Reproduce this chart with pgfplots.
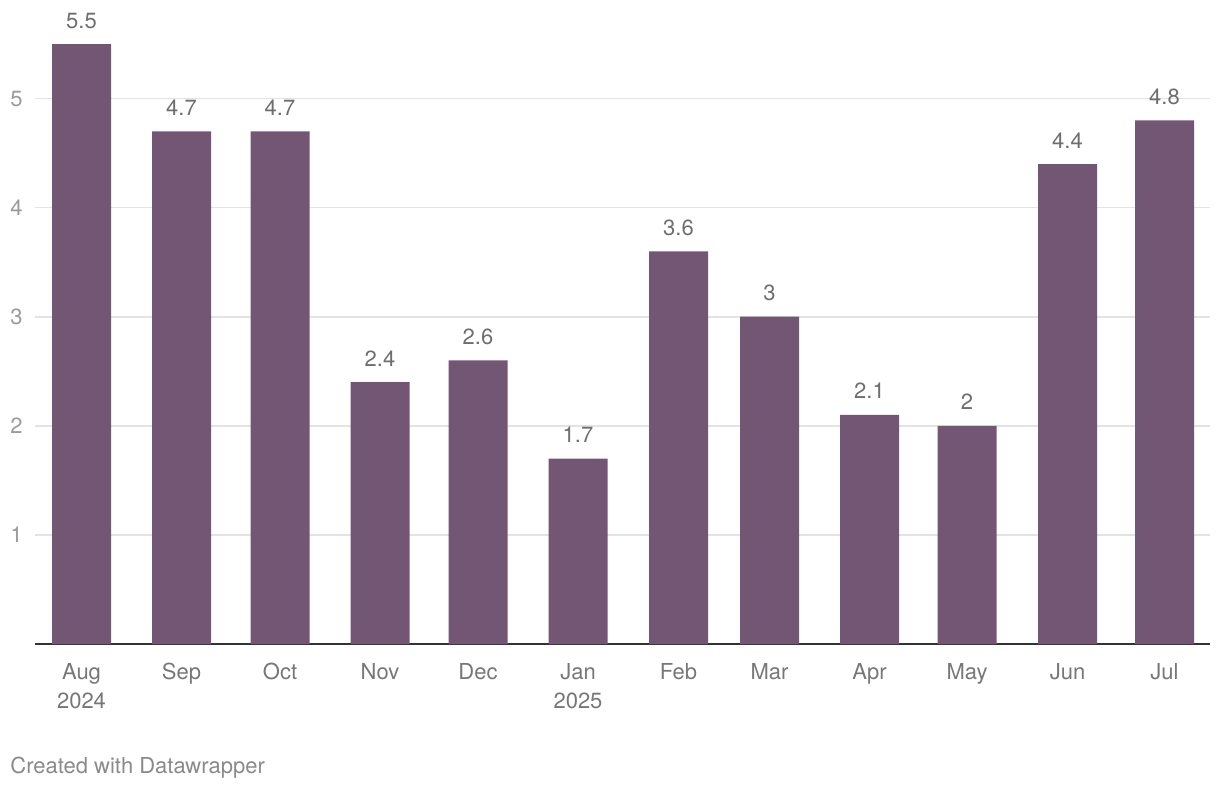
\documentclass[border=0pt]{standalone}
\usepackage{pgfplots}
\pgfplotsset{compat=1.18}
\usepackage{fontspec}
\setmainfont{TeX Gyre Heros}
\definecolor{barc}{HTML}{735673}
\definecolor{gridc}{HTML}{E3E3E3}
\definecolor{basec}{HTML}{333333}
\definecolor{ylab}{HTML}{9A9A9A}
\definecolor{xlab}{HTML}{777777}
\definecolor{dlab}{HTML}{6E6E6E}
\definecolor{credit}{HTML}{8A8A8A}
\begin{document}
\begin{tikzpicture}
\useasboundingbox (0,0) rectangle (610pt,394pt);
\begin{axis}[
  at={(17.5pt,72pt)}, anchor=south west,
  scale only axis, width=587.5pt, height=300pt,
  xmin=35, xmax=1210, ymin=0, ymax=5.5,
  clip=false,
  axis lines=left,
  axis line style={-},
  y axis line style={draw=none},
  x axis line style={draw=basec, line width=1pt},
  major tick length=0pt,
  ytick={1,2,3,4,5},
  ymajorgrids,
  grid style={gridc, line width=0.8pt},
  /pgf/number format/assume math mode=true,
  yticklabel style={font=\fontsize{11}{13}\selectfont, text=ylab, anchor=east, inner sep=0pt, xshift=-6pt},
  xtick={81.5,181.5,280,380,478,578,678.5,769.5,869.5,967,1067.5,1164.5},
  xticklabels={{Aug\\2024},Sep,Oct,Nov,Dec,{Jan\\2025},Feb,Mar,Apr,May,Jun,Jul},
  xticklabel style={font=\fontsize{11}{14.5}\selectfont, text=xlab, align=center, anchor=north, inner sep=0pt, yshift=-9.5pt},
  nodes near coords,
  every node near coord/.append style={font=\fontsize{11}{13}\selectfont, text=dlab, anchor=base, inner sep=0pt, yshift=8pt},
]
\addplot[ybar, bar width=59, fill=barc, draw=none] coordinates {
(81.5,5.5) (181.5,4.7) (280,4.7) (380,2.4) (478,2.6) (578,1.7)
(678.5,3.6) (769.5,3) (869.5,2.1) (967,2) (1067.5,4.4) (1164.5,4.8)
};
\end{axis}
\node[anchor=base west, inner sep=0pt, font=\fontsize{11}{13}\selectfont, text=credit] at (5pt,7.5pt) {Created with Datawrapper};
\end{tikzpicture}
\end{document}
